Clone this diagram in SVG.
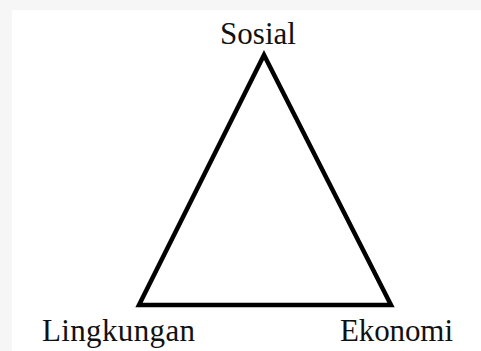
<svg xmlns="http://www.w3.org/2000/svg" width="481" height="351" viewBox="0 0 481 351">
<style>
.lbl{font-family:"Liberation Serif","Times New Roman",serif;font-size:31px;fill:#111}
.edge{fill:none;stroke:#000;stroke-width:4.5;stroke-linejoin:miter}
</style>
<rect width="481" height="351" fill="#f6f6f6"/>
<rect x="12" y="10" width="469" height="341" fill="#fff"/>
<g id="connectors">
<polygon class="edge" points="264,55 139,305 391,305"/>
</g>
<g id="sosial"><text class="lbl" x="258" y="44" text-anchor="middle">Sosial</text></g>
<g id="lingkungan"><text class="lbl" x="42" y="341" textLength="153">Lingkungan</text></g>
<g id="ekonomi"><text class="lbl" x="340" y="341" textLength="113">Ekonomi</text></g>
</svg>
